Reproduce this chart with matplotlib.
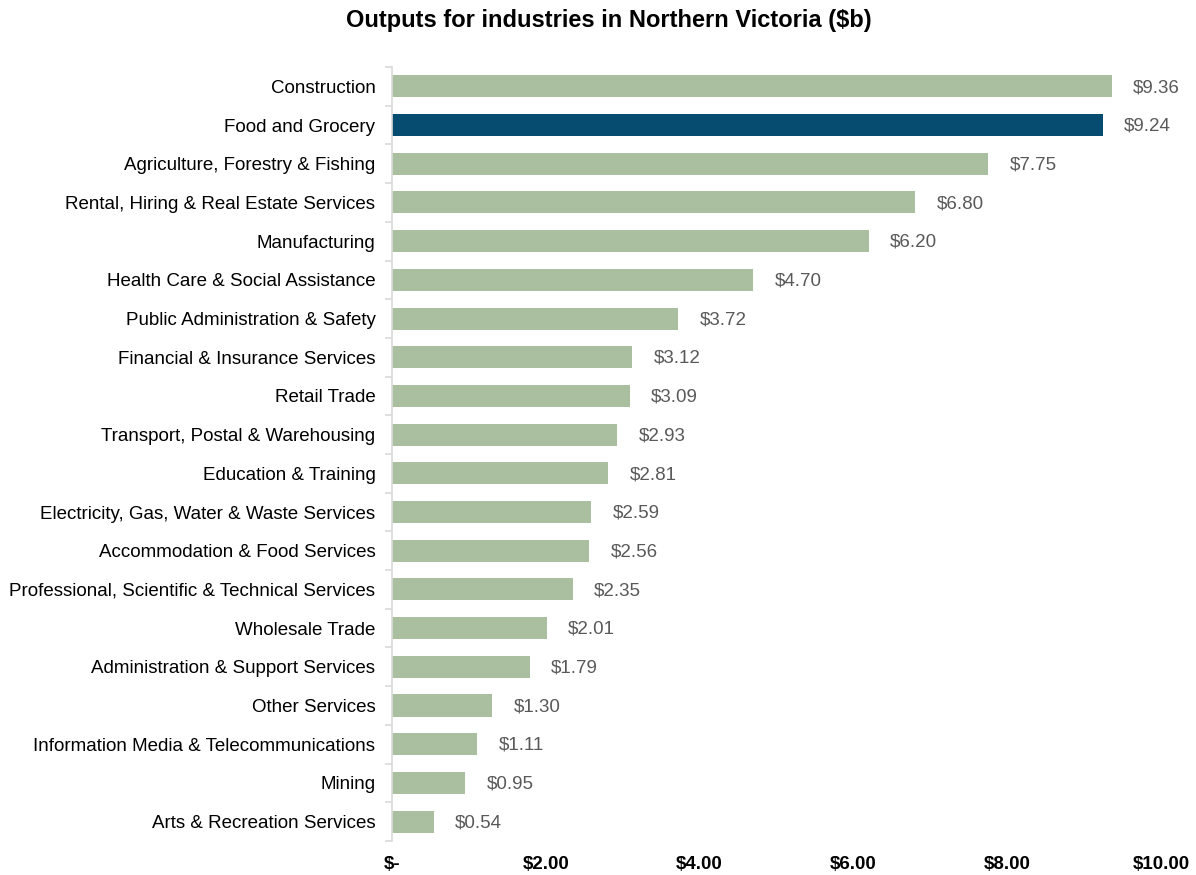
import matplotlib.pyplot as plt
import numpy as np

plt.rcParams['font.family'] = ['Liberation Sans', 'DejaVu Sans']

#%% Data
industries = [
    "Construction", "Food and Grocery", "Agriculture, Forestry & Fishing",
    "Rental, Hiring & Real Estate Services", "Manufacturing",
    "Health Care & Social Assistance", "Public Administration & Safety",
    "Financial & Insurance Services", "Retail Trade",
    "Transport, Postal & Warehousing", "Education & Training",
    "Electricity, Gas, Water & Waste Services", "Accommodation & Food Services",
    "Professional, Scientific & Technical Services", "Wholesale Trade",
    "Administration & Support Services", "Other Services",
    "Information Media & Telecommunications", "Mining", "Arts & Recreation Services",
]
outputs = [9.36, 9.24, 7.75, 6.80, 6.20, 4.70, 3.72, 3.12, 3.09, 2.93,
           2.81, 2.59, 2.56, 2.35, 2.01, 1.79, 1.30, 1.11, 0.95, 0.54]
highlight = "Food and Grocery"
xticks = [0, 2, 4, 6, 8, 10]
xtick_labels = ["$-", "$2.00", "$4.00", "$6.00", "$8.00", "$10.00"]

#%% Plot
green = "#AABF9F"
navy = "#054C70"
colors = [navy if n == highlight else green for n in industries]

fig = plt.figure(figsize=(11.96, 8.75), dpi=100)
ax = fig.add_axes([0.3278, 0.0389, 0.6429, 0.8845])

y = np.arange(len(industries))[::-1]
ax.barh(y, outputs, height=0.57, color=colors, edgecolor="none")

# etiquetas de valor a la derecha de cada barra
for yi, v in zip(y, outputs):
    ax.text(v + 0.28, yi - 0.03, f"${v:.2f}", va="center", ha="left",
            fontsize=13.5, color="#595959")

ax.set_xlim(0, 10)
ax.set_ylim(-0.5, len(industries) - 0.5)
ax.set_yticks(y)
ax.set_yticklabels(industries, fontsize=13.5)
ax.set_yticks(np.arange(-0.5, len(industries)), minor=True)
ax.tick_params(axis="y", which="major", length=0, pad=12)
ax.tick_params(axis="y", which="minor", length=5, color="#D9D9D9", width=1.2)

ax.set_xticks(xticks)
ax.set_xticklabels(xtick_labels, fontsize=13.5, fontweight="bold")
ax.tick_params(axis="x", length=0, pad=11)

for s in ["top", "right", "bottom"]:
    ax.spines[s].set_visible(False)
ax.spines["left"].set_color("#D9D9D9")
ax.spines["left"].set_linewidth(1.2)

fig.text(0.509, 0.976, "Outputs for industries in Northern Victoria ($b)",
         ha="center", va="center", fontsize=17, fontweight="bold")

fig.savefig("out.png", dpi=100)
